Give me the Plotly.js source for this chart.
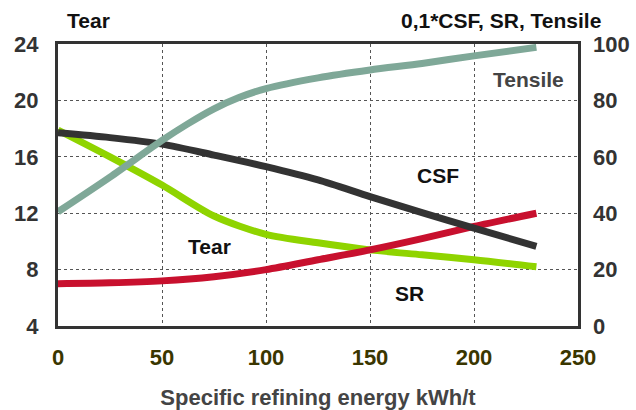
<!DOCTYPE html>
<html><head><meta charset="utf-8">
<script src="https://cdn.plot.ly/plotly-3.0.1.min.js"></script>
<style>html,body{margin:0;padding:0;background:#fff}#chart{width:636px;height:410px}</style>
</head><body><div id="chart"></div>
<script>
// Specific refining energy, kWh/t
const energy = [0, 25, 50, 75, 100, 125, 150, 175, 200, 230];
// Left axis
const tear = [17.9, 16.0, 14.0, 11.8, 10.5, 9.9, 9.4, 9.05, 8.7, 8.2];
// Right axis
const csf01 = [68.5, 66.8, 64.5, 60.6, 56.5, 51.8, 45.9, 40.2, 34.7, 28.2];
const sr = [15, 15.3, 16, 17.5, 20, 23.5, 27, 31, 35.3, 40];
const tensileX = [0, 25, 50, 62, 75, 87, 100, 125, 150, 175, 200, 230];
const tensile = [40.5, 52.8, 65.8, 71.5, 77, 81, 84.2, 88, 90.8, 93.1, 95.8, 98.8];
const xTicks = [0, 50, 100, 150, 200, 250];
const leftTicks = [4, 8, 12, 16, 20, 24];
const rightTicks = [0, 20, 40, 60, 80, 100];

const F = '"Liberation Sans", Arial, sans-serif';
const lw = 7;
const traces = [
  {x: energy, y: tear, yaxis: 'y', name: 'Tear', mode: 'lines', line: {color: '#8fd400', width: lw, shape: 'spline', smoothing: 0.8}},
  {x: energy, y: sr, yaxis: 'y2', name: 'SR', mode: 'lines', line: {color: '#c8102e', width: lw, shape: 'spline', smoothing: 0.8}},
  {x: energy, y: csf01, yaxis: 'y2', name: 'CSF', mode: 'lines', line: {color: '#333333', width: lw, shape: 'spline', smoothing: 0.8}},
  {x: tensileX, y: tensile, yaxis: 'y2', name: 'Tensile', mode: 'lines', line: {color: '#7fa898', width: lw, shape: 'spline', smoothing: 0.8}}
];
const layout = {
  width: 636, height: 410,
  margin: {l: 58, r: 58, t: 44, b: 84},
  paper_bgcolor: '#fff', plot_bgcolor: '#fff',
  showlegend: false,
  font: {family: F, color: '#333'},
  xaxis: {
    range: [0, 250], tickvals: xTicks, ticktext: xTicks.map(String),
    showgrid: true, gridcolor: '#555', griddash: 'dot', gridwidth: 1,
    showline: true, mirror: true, linecolor: '#333', linewidth: 3,
    ticks: '', ticklabelstandoff: 10, zeroline: false,
    tickfont: {family: F, size: 22, color: '#3a3600', weight: 'bold'},
    title: {text: 'Specific refining energy kWh/t', standoff: 21, font: {family: F, size: 22, color: '#444', weight: 'bold'}}
  },
  yaxis: {
    range: [4, 24], tickvals: leftTicks, ticktext: leftTicks.map(String),
    showgrid: true, gridcolor: '#555', griddash: 'dot', gridwidth: 1,
    showline: true, mirror: true, linecolor: '#333', linewidth: 3,
    ticks: '', ticklabelstandoff: 12, zeroline: false,
    tickfont: {family: F, size: 22, color: '#333', weight: 'bold'}
  },
  yaxis2: {
    range: [0, 100], tickvals: rightTicks, ticktext: rightTicks.map(String),
    overlaying: 'y', side: 'right', showgrid: false, zeroline: false,
    ticks: '', ticklabelstandoff: 14,
    tickfont: {family: F, size: 22, color: '#333', weight: 'bold'}
  },
  annotations: [
    {xref: 'paper', yref: 'paper', x: 0.013, y: 1.085, xanchor: 'left', yanchor: 'middle', showarrow: false, text: 'Tear', font: {family: F, size: 21, color: '#111', weight: 'bold'}},
    {xref: 'paper', yref: 'paper', x: 1.048, y: 1.085, xanchor: 'right', yanchor: 'middle', showarrow: false, text: '0,1*CSF, SR, Tensile', font: {family: F, size: 21, color: '#111', weight: 'bold'}},
    {xref: 'x', yref: 'y', x: 226, y: 21.45, showarrow: false, text: 'Tensile', font: {family: F, size: 21, color: '#444', weight: 'bold'}},
    {xref: 'x', yref: 'y', x: 182.5, y: 14.7, showarrow: false, text: 'CSF', font: {family: F, size: 21, color: '#111', weight: 'bold'}},
    {xref: 'x', yref: 'y', x: 73, y: 9.67, showarrow: false, text: 'Tear', font: {family: F, size: 21, color: '#111', weight: 'bold'}},
    {xref: 'x', yref: 'y', x: 169, y: 6.34, showarrow: false, text: 'SR', font: {family: F, size: 21, color: '#111', weight: 'bold'}}
  ]
};
Plotly.newPlot('chart', traces, layout, {staticPlot: true, displayModeBar: false});
</script></body></html>
